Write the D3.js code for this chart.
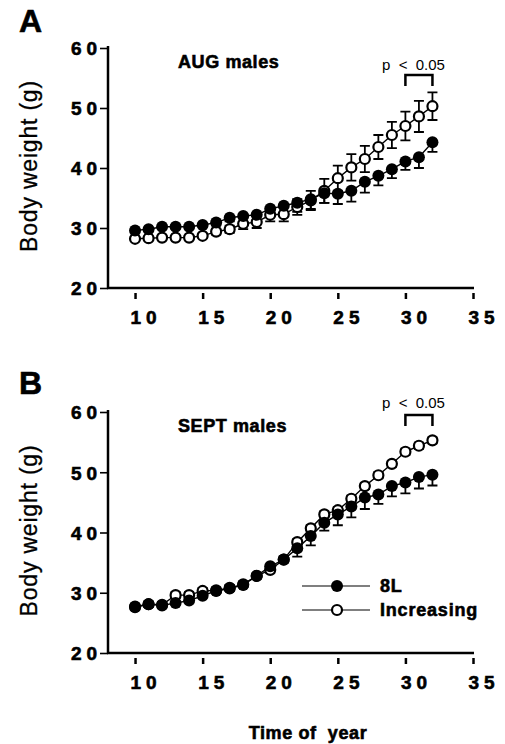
<!DOCTYPE html>
<html>
<head>
<meta charset="utf-8">
<script src="https://cdn.jsdelivr.net/npm/d3@7/dist/d3.min.js"></script>
<style>
  body {margin: 0; background: #fff}
  text {font-family: "Liberation Sans", Arial, sans-serif; fill: #000}
  .heavy {stroke: #000; stroke-width: 0.6px}
</style>
</head>
<body>
<div id="chart"></div>
<script>
// weeks of the year (time of year)
var weeks = [10, 11, 12, 13, 14, 15, 16, 17, 18, 19, 20, 21, 22, 23, 24, 25, 26, 27, 28, 29, 30, 31, 32]

// A: AUG males
var augFixed      = [29.6, 29.8, 30.2, 30.2, 30.2, 30.5, 30.9, 31.7, 32.0, 32.2, 33.2, 33.7, 34.2, 34.8, 35.8, 35.7, 36.2, 37.7, 38.7, 39.8, 41.1, 41.8, 44.3]
var augFixedSem   = [0.3, 0.3, 0.3, 0.3, 0.3, 0.4, 0.5, 0.6, 1.2, 1.3, 1.2, 1.3, 1.5, 1.6, 1.6, 1.7, 1.8, 1.8, 1.6, 1.5, 1.4, 1.8, 1.6]
var augIncr       = [28.2, 28.3, 28.4, 28.4, 28.4, 28.7, 29.4, 29.8, 30.7, 31.0, 32.2, 32.3, 33.5, 34.6, 36.2, 38.3, 40.1, 41.5, 43.5, 45.5, 47.0, 48.6, 50.3]
var augIncrSem    = [0.3, 0.3, 0.3, 0.3, 0.3, 0.4, 0.5, 0.6, 0.9, 1.0, 1.1, 1.2, 1.3, 1.6, 2.0, 2.1, 2.2, 2.2, 2.0, 2.2, 2.4, 2.6, 2.3]

// B: SEPT males
var septFixed     = [27.6, 28.1, 27.9, 28.3, 28.7, 29.5, 30.3, 30.7, 31.3, 32.8, 34.4, 35.5, 37.4, 39.4, 41.6, 43.0, 44.3, 45.8, 46.3, 47.7, 48.3, 49.2, 49.6]
var septFixedSem  = [0.3, 0.3, 0.3, 0.3, 0.3, 0.3, 0.3, 0.3, 0.3, 0.3, 0.3, 0.3, 1.4, 1.55, 1.3, 1.8, 1.8, 1.9, 1.55, 1.7, 1.8, 1.9, 1.8]
var septIncr      = [27.7, 28.1, 28.0, 29.6, 29.6, 30.3, 30.4, 30.8, 31.4, 32.8, 33.8, 35.5, 38.4, 40.7, 43.0, 43.7, 45.6, 47.7, 49.5, 51.4, 53.4, 54.4, 55.3]
var septIncrSem   = [0.5, 0.5, 0.5, 0.5, 0.5, 0.5, 0.5, 0.5, 0.5, 0.5, 0.5, 0.5, 0.5, 0.5, 0.5, 0.5, 0.5, 0.5, 0.5, 0.5, 0.5, 0.5, 0.5]

var xTicks = [10, 15, 20, 25, 30, 35]
var yTicks = [20, 30, 40, 50, 60]
var sigWeeks = [30, 32]   // bracket for p < 0.05

var svg = d3.select("#chart").append("svg")
            .attr("width", 505)
            .attr("height", 744)

drawPanel({letter: "A", letterY: 32, title: "AUG males", top: 48, bottom: 288, pY: 70, bracketY: 75,
           fixed: augFixed, fixedSem: augFixedSem, incr: augIncr, incrSem: augIncrSem, legend: false})
drawPanel({letter: "B", letterY: 394, title: "SEPT males", top: 412, bottom: 653, pY: 408, bracketY: 415,
           fixed: septFixed, fixedSem: septFixedSem, incr: septIncr, incrSem: septIncrSem, legend: true})

svg.append("text").attr("class", "heavy")
   .attr("x", 308).attr("y", 739)
   .attr("text-anchor", "middle")
   .style("font-size", "18px").style("font-weight", "bold")
   .style("letter-spacing", "0.6px").style("white-space", "pre")
   .text("Time of  year")

function drawPanel(p) {
  var x = d3.scaleLinear().domain([8, 35]).range([108, 473])
  var y = d3.scaleLinear().domain([20, 60]).range([p.bottom, p.top])
  var g = svg.append("g")

  g.append("text").attr("class", "heavy").attr("x", 19).attr("y", p.letterY)
   .style("font-size", "32px").style("font-weight", "bold").text(p.letter)

  // y axis
  var yAxis = g.append("g").attr("transform", "translate(108,0)")
               .call(d3.axisLeft(y).tickValues(yTicks).tickSize(8).tickPadding(0).tickFormat(d3.format("d")))
  yAxis.select(".domain").remove()
  yAxis.selectAll(".tick line").attr("stroke", "#000").attr("stroke-width", 1.6)
  yAxis.selectAll(".tick text").attr("class", "heavy")
       .attr("x", -37).attr("dy", "0.36em").attr("text-anchor", "start")
       .style("font-size", "19px").style("font-weight", "bold").style("letter-spacing", "5px")
  g.append("line").attr("x1", 108).attr("x2", 108).attr("y1", p.top - 2).attr("y2", p.bottom + 1)
   .attr("stroke", "#000").attr("stroke-width", 2.5)

  // x axis (ticks sit a little below the line)
  g.append("line").attr("x1", 107).attr("x2", 474).attr("y1", p.bottom).attr("y2", p.bottom)
   .attr("stroke", "#000").attr("stroke-width", 2.5)
  var xAxis = g.append("g").attr("transform", "translate(0," + (p.bottom + 5) + ")")
               .call(d3.axisBottom(x).tickValues(xTicks).tickSize(6).tickPadding(12).tickFormat(d3.format("d")))
  xAxis.select(".domain").remove()
  xAxis.selectAll(".tick line").attr("stroke", "#000").attr("stroke-width", 2.5)
  xAxis.selectAll(".tick text").attr("class", "heavy")
       .attr("x", -5).attr("text-anchor", "start")
       .style("font-size", "19px").style("font-weight", "bold").style("letter-spacing", "5px")

  g.append("text")
   .attr("transform", "translate(37," + ((p.top + p.bottom) / 2 - 2) + ") rotate(-90)")
   .attr("text-anchor", "middle")
   .style("font-size", "23px").style("letter-spacing", "0.8px")
   .style("stroke", "#000").style("stroke-width", "0.3px")
   .text("Body weight (g)")

  g.append("text").attr("class", "heavy").attr("x", 178).attr("y", p.top + 20)
   .style("font-size", "18px").style("font-weight", "bold").style("letter-spacing", "0.6px")
   .text(p.title)

  // p < 0.05 bracket
  var bx1 = x(sigWeeks[0]), bx2 = x(sigWeeks[1]), by = p.bracketY
  g.append("text").attr("x", 382).attr("y", p.pY)
   .style("font-size", "15px").style("white-space", "pre").text("p  <  0.05")
  g.append("path")
   .attr("d", "M" + bx1 + "," + (by + 11) + "V" + by + "H" + bx2 + "V" + (by + 11))
   .attr("fill", "none").attr("stroke", "#000").attr("stroke-width", 2.5)

  var incr = weeks.map((w, i) => ({w: w, v: p.incr[i], s: p.incrSem[i]}))
  var fixed = weeks.map((w, i) => ({w: w, v: p.fixed[i], s: p.fixedSem[i]}))

  // error bars: open circles both ways, filled circles only downward
  function errBars(data, up) {
    var eb = g.append("g").attr("stroke", "#000").attr("stroke-width", 1.8)
    eb.selectAll(".lo").data(data).enter().append("path")
      .attr("d", d => "M" + x(d.w) + "," + y(d.v) + "V" + y(d.v - d.s) + "m-5,0h10")
    if (up) {
      eb.selectAll(".hi").data(data).enter().append("path")
        .attr("d", d => "M" + x(d.w) + "," + y(d.v) + "V" + y(d.v + d.s) + "m-5,0h10")
    }
  }
  errBars(incr, true)
  errBars(fixed, false)

  var line = d3.line().x(d => x(d.w)).y(d => y(d.v))
  g.append("path").datum(incr).attr("d", line).attr("fill", "none").attr("stroke", "#000").attr("stroke-width", 1.4)
  g.append("path").datum(fixed).attr("d", line).attr("fill", "none").attr("stroke", "#000").attr("stroke-width", 1.4)

  g.selectAll(".open").data(incr).enter().append("circle")
   .attr("cx", d => x(d.w)).attr("cy", d => y(d.v)).attr("r", 5)
   .attr("fill", "#fff").attr("stroke", "#000").attr("stroke-width", 2.2)
  g.selectAll(".filled").data(fixed).enter().append("circle")
   .attr("cx", d => x(d.w)).attr("cy", d => y(d.v)).attr("r", 6)
   .attr("fill", "#000")

  if (p.legend) {
    var items = [{label: "8L", fill: "#000", r: 6, sw: 0, y: 586},
                 {label: "Increasing", fill: "#fff", r: 5, sw: 2.2, y: 610}]
    var lg = g.selectAll(".legend").data(items).enter().append("g")
    lg.append("line").attr("x1", 302).attr("x2", 370).attr("y1", d => d.y).attr("y2", d => d.y)
      .attr("stroke", "#000").attr("stroke-width", 1.2)
    lg.append("circle").attr("cx", 337).attr("cy", d => d.y).attr("r", d => d.r)
      .attr("fill", d => d.fill).attr("stroke", "#000").attr("stroke-width", d => d.sw)
    lg.append("text").attr("class", "heavy").attr("x", 380).attr("y", d => d.y + 6)
      .style("font-size", "18px").style("font-weight", "bold").style("letter-spacing", "0.8px")
      .text(d => d.label)
  }
}
</script>
</body>
</html>
